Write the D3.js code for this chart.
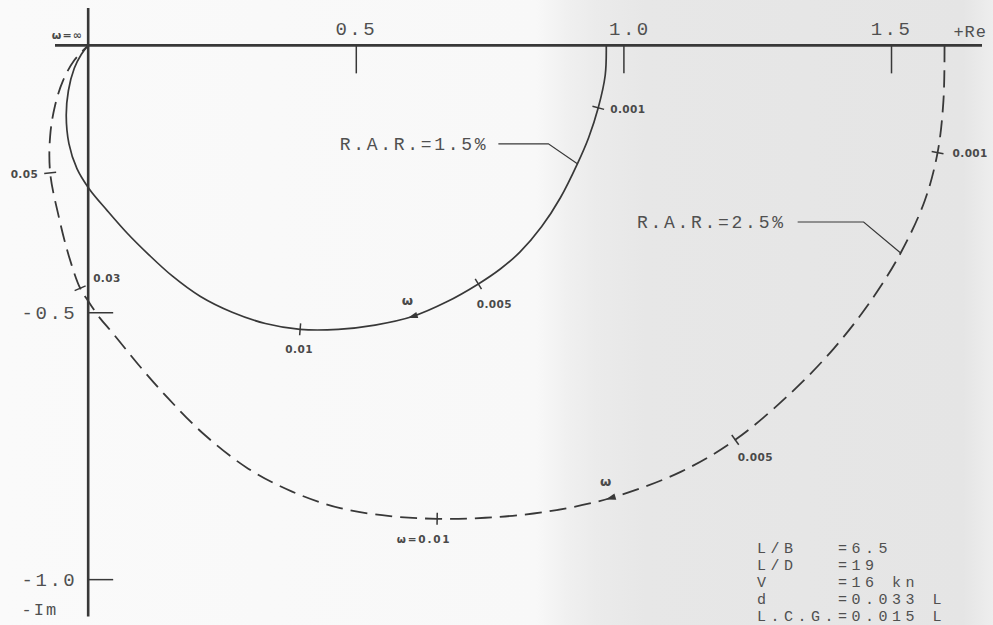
<!DOCTYPE html>
<html><head><meta charset="utf-8">
<script src="https://cdn.jsdelivr.net/npm/d3@7"></script>
<style>
html,body{margin:0;padding:0;background:#f4f4f4;}
svg{display:block;}
.tw{font-family:"Liberation Mono","DejaVu Sans Mono",monospace;fill:#505050;white-space:pre;}
.lt{font-family:"DejaVu Sans",sans-serif;fill:#4a4a4a;font-weight:bold;}
</style></head><body>
<svg id="chart" width="993" height="625"></svg>
<script>
// Frequency-response loci (Re, -Im), from w = 0 towards w = infinity
const rar15Points = [
  [0.968,0.000],[0.966,0.056],[0.953,0.117],[0.935,0.173],[0.914,0.222],[0.882,0.286],
  [0.847,0.340],[0.807,0.387],[0.770,0.419],[0.729,0.447],[0.669,0.481],[0.606,0.508],
  [0.536,0.524],[0.467,0.532],[0.396,0.532],[0.331,0.521],[0.269,0.500],[0.209,0.470],
  [0.157,0.432],[0.112,0.391],[0.073,0.352],[0.036,0.310],[0.002,0.269],[-0.021,0.231],
  [-0.036,0.184],[-0.041,0.132],[-0.037,0.085],[-0.026,0.043],[-0.013,0.017],[0.000,0.000]
];
const rar25Points = [
  [1.600,0.000],[1.598,0.103],[1.587,0.201],[1.563,0.291],[1.518,0.389],[1.462,0.479],
  [1.393,0.568],[1.312,0.652],[1.209,0.739],[1.107,0.799],[0.976,0.848],[0.854,0.874],
  [0.742,0.885],[0.652,0.887],[0.564,0.882],[0.471,0.867],[0.381,0.836],[0.299,0.793],
  [0.219,0.731],[0.150,0.662],[0.092,0.596],[0.045,0.538],[0.022,0.511],[0.000,0.479],
  [-0.015,0.455],[-0.036,0.395],[-0.054,0.325],[-0.071,0.239],[-0.071,0.169],[-0.062,0.113],
  [-0.047,0.066],[-0.026,0.028],[0.000,0.000]
];

// Frequency marks along each locus
const rar15FreqLabels = ["0.001","0.005","0.01"];
const rar15FreqAt = [[0.953,0.117],[0.729,0.447],[0.396,0.532]];
const rar25FreqLabels = ["0.001","0.005","ω=0.01","0.03","0.05"];
const rar25FreqAt = [[1.587,0.201],[1.209,0.739],[0.652,0.887],[-0.015,0.455],[-0.071,0.239]];

// Direction arrows (increasing w)
const rar15ArrowAt = [0.606,0.508];
const rar25ArrowAt = [0.976,0.848];

// Series names
const seriesNames = ["R.A.R.=1.5%","R.A.R.=2.5%"];
const rar15LeaderAt = [0.914,0.222];
const rar25LeaderAt = [1.518,0.389];

// Axis ticks
const reTicks = [0.5,1.0,1.5];
const reTickLabels = ["0.5","1.0","1.5"];
const imTicks = [0.5,1.0];
const imTickLabels = ["-0.5","-1.0"];

// Ship particulars
const paramNames = ["L/B","L/D","V","d","L.C.G."];
const paramValues = ["=6.5","=19","=16 kn","=0.033 L","=0.015 L"];

const W = 993, H = 625;
const svg = d3.select("#chart");

// paper background
const defs = svg.append("defs");
const grad = defs.append("linearGradient").attr("id","paper").attr("x1","0").attr("x2","1").attr("y1","0").attr("y2","0");
[[0,"#fafafa"],[0.54,"#f8f8f8"],[0.57,"#f0f0f0"],[0.6,"#ebebeb"],[0.65,"#e7e7e7"],[0.97,"#e5e5e5"],[1,"#eeeeee"]]
  .forEach(([o,c]) => grad.append("stop").attr("offset",o).attr("stop-color",c));
svg.append("rect").attr("width",W).attr("height",H).attr("fill","url(#paper)");

const x = d3.scaleLinear().domain([-0.062,1.67]).range([55,982]);
const y = d3.scaleLinear().domain([-0.07,1.07]).range([8,616.5]);

const ink = "#383838";

// axes
svg.append("line").attr("x1",x(-0.062)).attr("x2",x(1.67)).attr("y1",y(0)).attr("y2",y(0))
  .attr("stroke",ink).attr("stroke-width",2.6);
svg.append("line").attr("x1",x(0)).attr("x2",x(0)).attr("y1",y(-0.07)).attr("y2",y(1.07))
  .attr("stroke",ink).attr("stroke-width",2.6);

const reAxis = svg.append("g").attr("transform",`translate(0,${y(0)})`)
  .call(d3.axisTop(x).tickValues(reTicks).tickSize(-28).tickPadding(10)
    .tickFormat((d,i) => reTickLabels[i]));
const imAxis = svg.append("g").attr("transform",`translate(${x(0)},0)`)
  .call(d3.axisLeft(y).tickValues(imTicks).tickSize(-25).tickPadding(11)
    .tickFormat((d,i) => imTickLabels[i]));
[reAxis, imAxis].forEach(g => {
  g.select(".domain").remove();
  g.selectAll(".tick line").attr("stroke",ink).attr("stroke-width",1.5);
  g.selectAll(".tick text").attr("class","tw").attr("font-size",19)
    .attr("letter-spacing",2.5).attr("fill","#505050");
});
imAxis.selectAll(".tick text").attr("dy","0.35em");
reAxis.selectAll(".tick text").attr("dx",(d,i) => i === 1 ? 6 : 0);

svg.append("text").attr("class","tw").attr("x",x(1.67)+5).attr("y",y(0)-8)
  .attr("text-anchor","end").attr("font-size",17).attr("letter-spacing",1).text("+Re");
svg.append("text").attr("class","tw").attr("x",x(0)-30).attr("y",y(1.07)-2)
  .attr("text-anchor","end").attr("font-size",17).attr("letter-spacing",2).text("-Im");
svg.append("text").attr("class","lt").attr("x",x(0)-5).attr("y",y(0)-6)
  .attr("text-anchor","end").attr("font-size",11).attr("letter-spacing",1.2).text("ω=∞");

// loci
const line = d3.line().x(d => x(d[0])).y(d => y(d[1])).curve(d3.curveCatmullRom.alpha(0.5));
svg.append("path").datum(rar15Points).attr("d",line).attr("fill","none")
  .attr("stroke",ink).attr("stroke-width",1.7);
svg.append("path").datum(rar25Points).attr("d",line).attr("fill","none")
  .attr("stroke",ink).attr("stroke-width",1.8).attr("stroke-dasharray","17,8");

// local tangent (pixel space) at a point of a locus
function frame(points, at) {
  let best = 0, bd = Infinity;
  points.forEach((p,i) => { const d = Math.hypot(p[0]-at[0],p[1]-at[1]); if (d < bd) { bd = d; best = i; } });
  const a = points[Math.max(best-1,0)], b = points[Math.min(best+1,points.length-1)];
  let tx = x(b[0])-x(a[0]), ty = y(b[1])-y(a[1]);
  const L = Math.hypot(tx,ty); tx /= L; ty /= L;
  return {px:x(at[0]), py:y(at[1]), tx, ty, nx:-ty, ny:tx};
}

// frequency ticks + labels; label offsets are pixel layout
const rar15LabelPos = [[12,5,"start"],[16,24,"middle"],[-1,24,"middle"]];
const rar25LabelPos = [[15,4,"start"],[20,21,"middle"],[-13,24,"middle"],[13,-6,"start"],[-12,5,"end"]];
function freqMarks(points, at, labels, pos) {
  at.forEach((p,i) => {
    const f = frame(points,p);
    svg.append("line").attr("x1",f.px-f.nx*6).attr("y1",f.py-f.ny*6)
      .attr("x2",f.px+f.nx*6).attr("y2",f.py+f.ny*6)
      .attr("stroke",ink).attr("stroke-width",1.5);
    svg.append("text").attr("class","lt").attr("font-size",10.5)
      .attr("letter-spacing",labels[i].startsWith("ω") ? 1.8 : 0.4)
      .attr("x",f.px+pos[i][0]).attr("y",f.py+pos[i][1]).attr("text-anchor",pos[i][2]).text(labels[i]);
  });
}
freqMarks(rar15Points, rar15FreqAt, rar15FreqLabels, rar15LabelPos);
freqMarks(rar25Points, rar25FreqAt, rar25FreqLabels, rar25LabelPos);

// arrows
function arrow(points, at) {
  const f = frame(points, at);
  const tip = [f.px+f.tx*5, f.py+f.ty*5];
  const b1 = [f.px-f.tx*5+f.nx*3.2, f.py-f.ty*5+f.ny*3.2];
  const b2 = [f.px-f.tx*5-f.nx*3.2, f.py-f.ty*5-f.ny*3.2];
  svg.append("path").attr("d",`M${tip}L${b1}L${b2}Z`).attr("fill",ink);
  svg.append("text").attr("class","lt").attr("font-size",13).attr("text-anchor","middle")
    .attr("x",f.px-5).attr("y",f.py-12).text("ω");
}
arrow(rar15Points, rar15ArrowAt);
arrow(rar25Points, rar25ArrowAt);

// series name with leader line
function seriesLabel(name, at, elbow, run, gap) {
  const ex = x(at[0]), ey = y(at[1]);
  const kx = ex+elbow[0], ky = ey+elbow[1];
  svg.append("path").attr("d",`M${kx-run},${ky}L${kx},${ky}L${ex},${ey}`)
    .attr("fill","none").attr("stroke",ink).attr("stroke-width",1.2);
  svg.append("text").attr("class","tw").attr("font-size",18).attr("letter-spacing",2.7)
    .attr("text-anchor","end").attr("x",kx-run-gap).attr("y",ky+6).text(name);
}
seriesLabel(seriesNames[0], rar15LeaderAt, [-29,-20], 50, 10);
seriesLabel(seriesNames[1], rar25LeaderAt, [-37,-31], 66, 12);

// ship particulars block
const block = svg.append("g").attr("transform","translate(757,553)");
paramNames.forEach((n,i) => {
  block.append("text").attr("class","tw").attr("font-size",15).attr("letter-spacing",4.5)
    .attr("y",i*17).text(n.padEnd(6," ")+paramValues[i]);
});
</script></body></html>
